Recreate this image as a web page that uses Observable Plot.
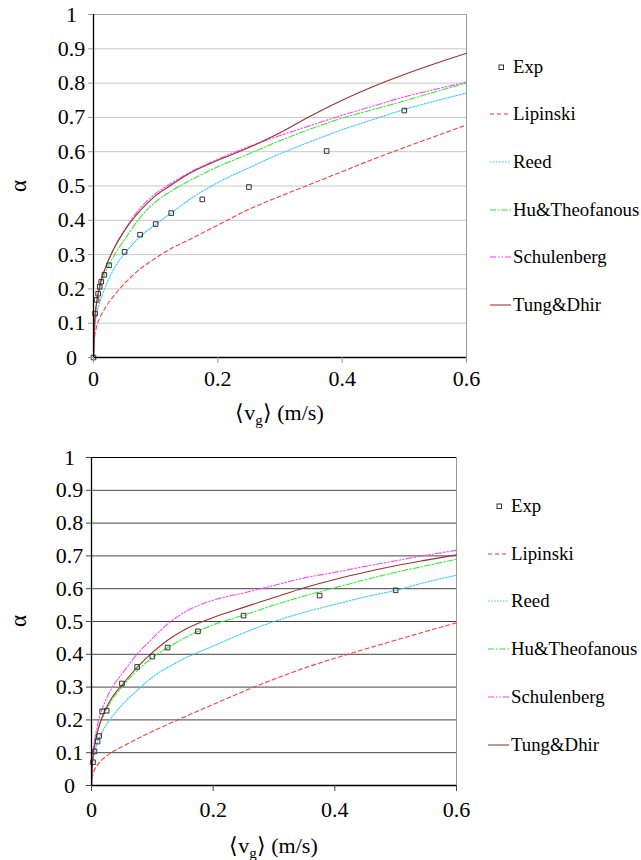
<!DOCTYPE html>
<html><head><meta charset="utf-8">
<script src="https://cdn.jsdelivr.net/npm/d3@7"></script>
<script src="https://cdn.jsdelivr.net/npm/@observablehq/plot@0.6"></script>
<style>
body{margin:0;background:#fff;}
#wrap{position:relative;width:641px;height:860px;color:#000;}
#wrap, #wrap *, #wrap svg text{font-family:"Liberation Serif","Times New Roman",Times,serif !important;}
.chart{position:absolute;left:0;}
.xtitle{position:absolute;font-size:22px;white-space:nowrap;transform:translateX(-50%);line-height:1;}
.xtitle sub{font-size:15px;vertical-align:-5px;line-height:0;}
.ytitle{position:absolute;font-size:23px;line-height:1;transform:translate(-50%,-50%) rotate(-90deg);}
.legend{position:absolute;font-size:18.8px;}
.legend .row{position:absolute;left:0;white-space:nowrap;display:flex;align-items:center;transform:translateY(-50%);}
.legend svg{display:block;}
</style></head><body><div id="wrap"></div>
<script>
// ---------- data ----------
const yTicks = [0,0.1,0.2,0.3,0.4,0.5,0.6,0.7,0.8,0.9,1];
const xTicks = [0,0.2,0.4,0.6];
const seriesNames = ["Lipinski","Reed","Hu&Theofanous","Schulenberg","Tung&Dhir"];
const vGrid = [0,0.002,0.005,0.01,0.02,0.035,0.05,0.075,0.1,0.125,0.15,0.2,0.25,0.3,0.35,0.4,0.45,0.5,0.55,0.6];

// top chart
const topExpV = [0,0.0025,0.005,0.0075,0.01,0.0125,0.0175,0.025,0.05,0.075,0.1,0.125,0.175,0.25,0.375,0.5];
const topExpA = [0,0.128,0.168,0.186,0.206,0.221,0.241,0.269,0.308,0.358,0.389,0.421,0.461,0.497,0.602,0.720];
const topLipinski   = [0,0.06,0.09,0.115,0.148,0.185,0.216,0.258,0.29,0.318,0.34,0.386,0.432,0.47,0.506,0.542,0.578,0.612,0.645,0.678];
const topReed       = [0,0.085,0.125,0.16,0.21,0.265,0.303,0.352,0.388,0.421,0.455,0.51,0.553,0.594,0.63,0.664,0.694,0.723,0.748,0.771];
const topHu         = [0,0.1,0.16,0.2,0.25,0.303,0.344,0.408,0.454,0.485,0.511,0.556,0.594,0.632,0.667,0.698,0.723,0.748,0.775,0.8];
const topSchulenberg= [0,0.1,0.155,0.205,0.265,0.325,0.372,0.435,0.478,0.508,0.535,0.578,0.615,0.647,0.677,0.706,0.733,0.76,0.782,0.803];
const topTung       = [0,0.11,0.16,0.21,0.265,0.325,0.37,0.428,0.472,0.503,0.532,0.575,0.612,0.655,0.705,0.75,0.79,0.825,0.857,0.887];

// bottom chart
const botExpV = [0.0025,0.005,0.01,0.0125,0.0175,0.025,0.05,0.075,0.1,0.125,0.175,0.25,0.375,0.5];
const botExpA = [0.071,0.104,0.134,0.151,0.226,0.228,0.311,0.3615,0.393,0.4205,0.470,0.518,0.579,0.595];
const botLipinski   = [0,0.03,0.048,0.063,0.083,0.103,0.118,0.142,0.165,0.186,0.207,0.247,0.287,0.324,0.358,0.388,0.416,0.443,0.47,0.496];
const botReed       = [0,0.07,0.1,0.133,0.172,0.212,0.245,0.29,0.33,0.36,0.385,0.425,0.465,0.5,0.528,0.552,0.575,0.595,0.62,0.641];
const botHu         = [0,0.085,0.125,0.165,0.215,0.265,0.3,0.35,0.39,0.42,0.447,0.49,0.519,0.55,0.578,0.603,0.627,0.65,0.67,0.69];
const botSchulenberg= [0,0.09,0.135,0.185,0.245,0.302,0.34,0.4,0.448,0.492,0.525,0.565,0.587,0.61,0.633,0.65,0.668,0.685,0.702,0.717];
const botTung       = [0,0.08,0.12,0.165,0.22,0.272,0.306,0.36,0.405,0.443,0.472,0.512,0.543,0.573,0.603,0.628,0.65,0.67,0.687,0.703];

// ---------- styles ----------
const seriesColors = ["#ff3b3b","#33ccff","#33ee33","#ff44ff","#993333"];
const seriesDash = ["4,3","1.5,1.5","6,2,1.5,2","6,2,1.5,2,1.5,2",null];
const FONT = "Liberation Serif, Times New Roman, serif";

const wrap = document.getElementById("wrap");

function makeChart(cfg) {
  const lines = cfg.series.map((vals, i) => {
    const data = vGrid.map((v, k) => ({v, a: vals[k]}));
    const opts = {x: "v", y: "a", stroke: seriesColors[i], strokeWidth: 1.1, curve: "monotone-x"};
    if (seriesDash[i]) opts.strokeDasharray = seriesDash[i];
    return Plot.line(data, opts);
  });
  const exp = cfg.expV.map((v, k) => ({v, a: cfg.expA[k]}));
  const fmt = d => String(+d.toFixed(1));
  const plot = Plot.plot({
    width: 641, height: 430,
    marginTop: cfg.mt, marginBottom: cfg.mb, marginLeft: cfg.ml, marginRight: cfg.mr,
    style: {fontFamily: FONT, background: "white", overflow: "visible"},
    x: {domain: [0, 0.6]},
    y: {domain: [0, 1]},
    marks: [
      Plot.ruleY(yTicks.filter(t => t > 0 && t < 1), {stroke: cfg.grid, strokeWidth: 1}),
      Plot.ruleY([1], {stroke: cfg.topBorder, strokeWidth: 1}),
      Plot.ruleX([0.6], {stroke: "#999", strokeWidth: 1}),
      ...lines,
      Plot.dot(exp, {x: "v", y: "a", symbol: "square", r: 2.6, stroke: "#333", fill: "none", strokeWidth: 1}),
      Plot.ruleX([0], {stroke: "#000", strokeWidth: 1.3}),
      Plot.ruleY([0], {stroke: "#000", strokeWidth: 1.3}),
      Plot.axisY({ticks: yTicks, tickFormat: fmt, tickSize: 5, tickPadding: 17, textAnchor: "middle",
        fontSize: 22, fontFamily: FONT, stroke: cfg.tickColor, label: null}),
      Plot.axisX({ticks: xTicks, tickFormat: fmt, tickSize: 6, tickPadding: cfg.xpad, fontSize: 22,
        fontFamily: FONT, stroke: cfg.tickColor, label: null})
    ]
  });
  plot.classList.add("chart");
  plot.style.top = cfg.top + "px";
  wrap.appendChild(plot);

  const xr = plot.scale("x").range;
  const yr = plot.scale("y").range;

  // x axis title with subscript
  const t = document.createElement("div");
  t.className = "xtitle";
  t.innerHTML = "⟨v<sub>g</sub>⟩ (m/s)";
  t.style.left = ((xr[0] + xr[1]) / 2) + "px";
  t.style.top = cfg.xTitleTop + "px";
  wrap.appendChild(t);

  // y axis title
  const ya = document.createElement("div");
  ya.className = "ytitle";
  ya.textContent = "α";
  ya.style.left = "18px";
  ya.style.top = (cfg.top + (yr[0] + yr[1]) / 2) + "px";
  wrap.appendChild(ya);

  // legend
  const lg = document.createElement("div");
  lg.className = "legend";
  lg.style.left = cfg.legendX + "px";
  lg.style.top = cfg.legendY + "px";
  const names = ["Exp", ...seriesNames];
  names.forEach((name, i) => {
    const row = document.createElement("div");
    row.className = "row";
    row.style.top = (i * cfg.legendStep) + "px";
    const sw = d3.create("svg").attr("width", 22).attr("height", 10);
    if (i === 0) {
      sw.append("rect").attr("x", 9).attr("y", 3).attr("width", 4.5).attr("height", 4.5)
        .attr("fill", "none").attr("stroke", "#333");
    } else {
      const ln = sw.append("line").attr("x1", 0).attr("x2", 21).attr("y1", 5).attr("y2", 5)
        .attr("stroke", seriesColors[i - 1]).attr("stroke-width", 1.5).attr("opacity", 0.7);
      if (seriesDash[i - 1]) ln.attr("stroke-dasharray", seriesDash[i - 1]);
    }
    row.appendChild(sw.node());
    const tx = document.createElement("span");
    tx.textContent = name;
    tx.style.marginLeft = "1px";
    row.appendChild(tx);
    lg.appendChild(row);
  });
  wrap.appendChild(lg);
}

makeChart({
  top: 0, mt: 14, mb: 73, ml: 93, mr: 175, grid: "#c8c8c8", topBorder: "#aaa", tickColor: "#999", xpad: 7,
  series: [topLipinski, topReed, topHu, topSchulenberg, topTung],
  expV: topExpV, expA: topExpA,
  xTitleTop: 402, legendX: 490, legendY: 66.5, legendStep: 47.7
});
makeChart({
  top: 430, mt: 27, mb: 75, ml: 91, mr: 185, grid: "#444", topBorder: "#000", tickColor: "#444", xpad: 10,
  series: [botLipinski, botReed, botHu, botSchulenberg, botTung],
  expV: botExpV, expA: botExpA,
  xTitleTop: 835, legendX: 488, legendY: 506, legendStep: 47.7
});
</script></body></html>
